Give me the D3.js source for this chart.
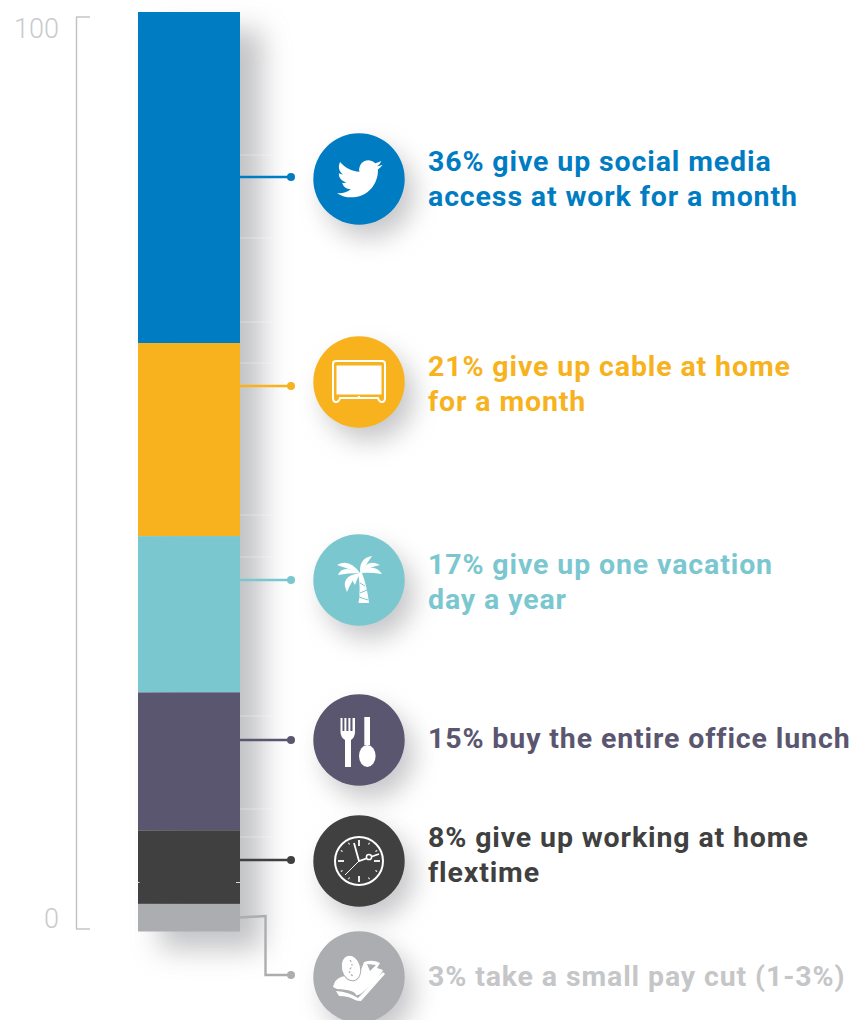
<!DOCTYPE html>
<html>
<head>
<meta charset="utf-8">
<script src="https://cdn.jsdelivr.net/npm/d3@7"></script>
<style>
html, body { margin: 0; padding: 0; background: #fff; }
svg { display: block; }
text { font-family: Roboto, sans-serif; }
</style>
</head>
<body>
<svg class="chart" width="858" height="1020"></svg>
<script>
// top of the bar to the bottom
var categories = ["twitter", "cable", "vacation", "lunch", "flextime", "paycut"];
var values = [36, 21, 17, 15, 8, 3];
var labels = [
  ["36% give up social media", "access at work for a month"],
  ["21% give up cable at home", "for a month"],
  ["17% give up one vacation", "day a year"],
  ["15% buy the entire office lunch"],
  ["8% give up working at home", "flextime"],
  ["3% take a small pay cut (1-3%)"]
];
var axisTicks = [0, 100];

var colors = ["#007cc3", "#f7b21d", "#7bc7d0", "#5b5670", "#404040", "#acadb0"];
var labelColors = ["#007cc3", "#f7b21d", "#7bc7d0", "#5b5670", "#404040", "#c5c6c8"];

// layout of the callouts
var circleY = [179, 382, 580, 740, 861, 977];
var leaderY = [177, 386, 580, 740, 860, 975];
var textY = [171, 376, 574, 748, 847, 986];
// pale seams that run across the bar shadow
var seamY = [155, 238, 322, 363, 515, 557, 716, 809, 837];

var chart = d3.select(".chart");

var y = d3.scaleLinear().domain([0, 100]).range([931.5, 12]);
var axisY = d3.scaleLinear().domain([0, 100]).range([928.5, 16.5]);

var defs = chart.append("defs");
defs.append("filter").attr("id", "barShadow")
  .attr("x", "-60%").attr("y", "-10%").attr("width", "220%").attr("height", "120%")
  .append("feGaussianBlur").attr("stdDeviation", 14);
defs.append("filter").attr("id", "dotShadow")
  .attr("x", "-50%").attr("y", "-50%").attr("width", "200%").attr("height", "200%")
  .append("feGaussianBlur").attr("stdDeviation", 13);

// axis bracket
var axis = d3.axisLeft(axisY).tickValues(axisTicks).tickSize(-14).tickSizeOuter(0).tickPadding(17);
var axisG = chart.append("g").attr("transform", "translate(76,0)").call(axis);
axisG.select(".domain").attr("stroke", "#bfc0c3").attr("stroke-width", 1.4);
axisG.selectAll(".tick line").attr("stroke", "#bfc0c3").attr("stroke-width", 1.4);
axisG.selectAll(".tick text")
  .attr("fill", "#c9cacc")
  .attr("transform", function(d) { return "translate(0," + (d == 0 ? -10 : 12) + ")"; })
  .style("font-size", "27px")
  .style("font-weight", 300)
  .style("font-family", "Roboto, sans-serif");

// running totals, so each segment knows where it starts
var tops = d3.cumsum(values).map(function(d) { return 100 - d; });
var segments = values.map(function(d, i) {
  return { value: d, lo: tops[i], hi: tops[i] + d, color: colors[i], name: categories[i] };
});

// shadow under the bar
chart.append("rect")
  .attr("x", 160).attr("width", 102)
  .attr("y", y(100) + 18)
  .attr("height", y(0) - y(100))
  .attr("fill", "#abacaf")
  .attr("opacity", 0.72)
  .attr("filter", "url(#barShadow)");

chart.selectAll("line.seam").data(seamY).enter().append("line")
  .attr("class", "seam")
  .attr("x1", 240).attr("x2", 272)
  .attr("y1", function(d) { return d; }).attr("y2", function(d) { return d; })
  .attr("stroke", "#fff").attr("stroke-opacity", 0.35).attr("stroke-width", 1);

chart.selectAll("rect.segment").data(segments).enter().append("rect")
  .attr("class", "segment")
  .attr("x", 138).attr("width", 102)
  .attr("y", function(d) { return y(d.hi); })
  .attr("height", function(d) { return y(d.lo) - y(d.hi); })
  .attr("fill", function(d) { return d.color; });

// the small nicks in the dark segment
chart.append("path").attr("d", "M138 882.5H139.5M236 882.5H240")
  .attr("stroke", "#fff").attr("stroke-opacity", 0.8).attr("stroke-width", 1);

// leaders
var leader = chart.append("g");
categories.forEach(function(c, i) {
  var path;
  if (i == 5) {
    path = d3.line()([[240, 917.5], [265.5, 916], [265.5, leaderY[i]], [291, leaderY[i]]]);
  } else {
    path = d3.line()([[240, leaderY[i]], [291, leaderY[i]]]);
  }
  leader.append("path").attr("d", path).attr("fill", "none")
    .attr("stroke", colors[i]).attr("stroke-width", 2.4);
  leader.append("circle").attr("cx", 291).attr("cy", leaderY[i]).attr("r", 4).attr("fill", colors[i]);
});

// icon shadows and discs
chart.selectAll("circle.shade").data(categories).enter().append("circle")
  .attr("class", "shade")
  .attr("cx", 369).attr("cy", function(d, i) { return circleY[i] + 14; }).attr("r", 45)
  .attr("fill", "#97989c").attr("opacity", 0.55)
  .attr("filter", "url(#dotShadow)");

chart.selectAll("circle.disc").data(categories).enter().append("circle")
  .attr("class", "disc")
  .attr("cx", 359).attr("cy", function(d, i) { return circleY[i]; }).attr("r", 45.7)
  .attr("fill", function(d, i) { return colors[i]; });

var icons = chart.selectAll("g.icon").data(categories).enter().append("g")
  .attr("class", "icon")
  .attr("transform", function(d, i) { return "translate(359," + circleY[i] + ")"; });

function leaf(x, y, cx, cy, cx2, cy2) {
  return "M1 -7 Q" + cx + " " + cy + " " + x + " " + y + " Q" + cx2 + " " + cy2 + " 1 -7Z";
}

icons.each(function(name, i) {
  var g = d3.select(this);
  var bg = colors[i];
  if (name == "twitter") {
    g.append("path")
      .attr("transform", "translate(-22,-23) scale(1.9)")
      .attr("fill", "#fff")
      .attr("d", "M23.953 4.57a10 10 0 01-2.825.775 4.958 4.958 0 002.163-2.723c-.951.555-2.005.959-3.127 1.184a4.92 4.92 0 00-8.384 4.482C7.69 8.095 4.067 6.13 1.64 3.162a4.822 4.822 0 00-.666 2.475c0 1.71.87 3.213 2.188 4.096a4.904 4.904 0 01-2.228-.616v.06a4.923 4.923 0 003.946 4.827 4.996 4.996 0 01-2.212.085 4.936 4.936 0 004.604 3.417 9.867 9.867 0 01-6.102 2.105c-.39 0-.779-.023-1.17-.067a13.995 13.995 0 007.557 2.209c9.053 0 13.998-7.496 13.998-13.985 0-.21 0-.42-.015-.63A9.935 9.935 0 0024 4.59z");
  }
  if (name == "cable") {
    g.append("path").attr("fill", "none").attr("stroke", "#fff").attr("stroke-width", 2)
      .attr("d", "M-23 -21 H23 Q26 -21 26 -18 V16 Q26 20 23 20 Q20 20 19 16 H-19 Q-20 20 -23 20 Q-26 20 -26 16 V-18 Q-26 -21 -23 -21Z");
    g.append("rect").attr("x", -22.5).attr("y", -16.5).attr("width", 45).attr("height", 29).attr("fill", "#fff");
    g.append("rect").attr("x", -1).attr("y", 14).attr("width", 2).attr("height", 2).attr("fill", "#fff");
  }
  if (name == "vacation") {
    g.append("path").attr("fill", "#fff").attr("d", leaf(13, -24, 0, -22, 8, -16));
    g.append("path").attr("fill", "#fff").attr("d", leaf(21, -15, 8, -22, 11, -13));
    g.append("path").attr("fill", "#fff").attr("d", leaf(23, -6, 15, -18, 11, -8));
    g.append("path").attr("fill", "#fff").attr("d", leaf(-22, -15, -10, -22, -10, -11));
    g.append("path").attr("fill", "#fff").attr("d", leaf(-21, -5, -17, -16, -11, -7));
    g.append("path").attr("fill", "#fff").attr("d", leaf(-12, 12, -20, -4, -7, -1));
    g.append("path").attr("fill", "#fff").attr("d", leaf(-4, 5, -10, -3, -2, -1));
    g.append("path").attr("fill", "#fff").attr("d", "M-1 -7 L3 -7 Q8 6 10 23 L-0.5 23 Q2 8 -1 -7Z");
    g.append("path").attr("fill", "none").attr("stroke", bg).attr("stroke-width", 1)
      .attr("d", "M1 3 L6 6 M8 10 L1 13 M0 17 L9 20");
  }
  if (name == "lunch") {
    g.append("path").attr("fill", "#fff")
      .attr("d", "M-18.5 -22 H-16.5 V-9 H-14.6 V-22 H-12.6 V-9 H-10.6 V-22 H-8.6 V-9 H-6.5 V-22 H-4 V-8 Q-4 -3 -8 0 V27 H-14 V0 Q-18.5 -3 -18.5 -8Z");
    g.append("path").attr("fill", "#fff").attr("d", "M5.3 -23 H11 V5 H5.3Z");
    g.append("ellipse").attr("cx", 8.3).attr("cy", 16).attr("rx", 8.3).attr("ry", 11).attr("fill", "#fff");
  }
  if (name == "flextime") {
    g.append("circle").attr("r", 24).attr("fill", "none").attr("stroke", "#fff").attr("stroke-width", 2);
    d3.range(12).forEach(function(h) {
      var major = h % 3 == 0;
      g.append("line")
        .attr("y1", -21).attr("y2", major ? -15 : -19)
        .attr("stroke", "#fff").attr("stroke-width", major ? 1.8 : 1)
        .attr("transform", "rotate(" + h * 30 + ")");
    });
    g.append("path").attr("fill", "none").attr("stroke", "#fff").attr("stroke-width", 1.8)
      .attr("d", "M-5 -18 L0 0 L20 -7");
    g.append("path").attr("fill", "none").attr("stroke", "#fff").attr("stroke-width", 1)
      .attr("d", "M0 0 L-14 14");
    g.append("circle").attr("cx", 10).attr("cy", -4).attr("r", 2.6)
      .attr("fill", bg).attr("stroke", "#fff").attr("stroke-width", 1.5);
  }
  if (name == "paycut") {
    g.append("path").attr("fill", "#fff")
      .attr("d", "M-23 14 Q-10 15 -1 21 L24 -5 L26 -3 L2 24 Q-2 24 -4 23 Q-10 19 -20 19Z");
    g.append("path").attr("fill", "#fff")
      .attr("d", "M-26 10 Q-24 2 -18 0 Q-8 -3 -1 1 L5 -15 Q14 -18 21 -14 L18 -9 L24 -7 Q20 2 4 15 Q0 19 -3 18 Q-4 13 -22 12Z");
    g.append("path").attr("fill", bg).attr("d", "M8 -13 L17 -12 L11 -6Z");
    g.append("ellipse").attr("cx", -8).attr("cy", -9).attr("rx", 9.5).attr("ry", 13)
      .attr("transform", "rotate(-15 -8 -9)")
      .attr("fill", "#fff").attr("stroke", bg).attr("stroke-width", 1);
    g.append("path").attr("fill", "none").attr("stroke", bg).attr("stroke-width", 1.2).attr("stroke-dasharray", "2 2")
      .attr("d", "M-9 -17 Q-5 -11 -9 -8 Q-11 -4 -6 -1");
  }
});

// callout text
var textG = chart.selectAll("text.callout").data(labels).enter().append("text")
  .attr("class", "callout")
  .attr("fill", function(d, i) { return labelColors[i]; })
  .style("font-size", "28.5px")
  .style("font-weight", 700)
  .style("letter-spacing", "0.88px");

textG.each(function(lines, i) {
  var t = d3.select(this);
  lines.forEach(function(line, j) {
    t.append("tspan")
      .attr("x", 428)
      .attr("y", textY[i] + j * 35)
      .text(line);
  });
});
</script>
</body>
</html>
